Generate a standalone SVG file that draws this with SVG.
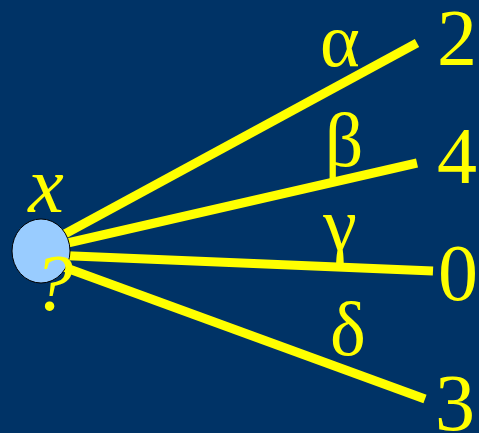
<svg xmlns="http://www.w3.org/2000/svg" width="479" height="433" viewBox="0 0 479 433">
<style>
.t{font-family:"Liberation Serif","Times New Roman",serif;fill:#ffff00;font-size:80px}
.g{font-size:76px}
.e{stroke:#ffff00;stroke-width:9;stroke-linecap:butt;fill:none}
</style>
<rect width="479" height="433" fill="#003366"/>
<g id="connectors">
<line class="e" x1="50" y1="242" x2="417" y2="43"/>
<line class="e" x1="50" y1="247" x2="417" y2="163"/>
<line class="e" x1="50" y1="255" x2="433" y2="271"/>
<line class="e" x1="50" y1="262" x2="425" y2="399"/>
</g>
<g id="node-root">
<ellipse cx="41" cy="251" rx="29" ry="32" fill="#99ccff" stroke="#000" stroke-width="1"/>
<text class="t" x="46" y="212" text-anchor="middle" font-style="italic" font-size="84">x</text>
<text class="t" x="53" y="310" text-anchor="middle" font-size="92" font-style="italic">?</text>
</g>
<g id="leaf-2"><text class="t" x="457" y="65" text-anchor="middle" font-size="84">2</text></g>
<g id="leaf-4"><text class="t" x="457" y="183" text-anchor="middle" font-size="84">4</text></g>
<g id="leaf-0"><text class="t" x="458" y="300" text-anchor="middle" font-size="84">0</text></g>
<g id="leaf-3"><text class="t" x="455" y="430" text-anchor="middle" font-size="84">3</text></g>
<g id="labels">
<text class="t g" x="340" y="66" text-anchor="middle">α</text>
<text class="t g" x="344" y="166" text-anchor="middle">β</text>
<text class="t g" x="340" y="250" text-anchor="middle">γ</text>
<text class="t g" x="348" y="355" text-anchor="middle">δ</text>
</g>
</svg>
